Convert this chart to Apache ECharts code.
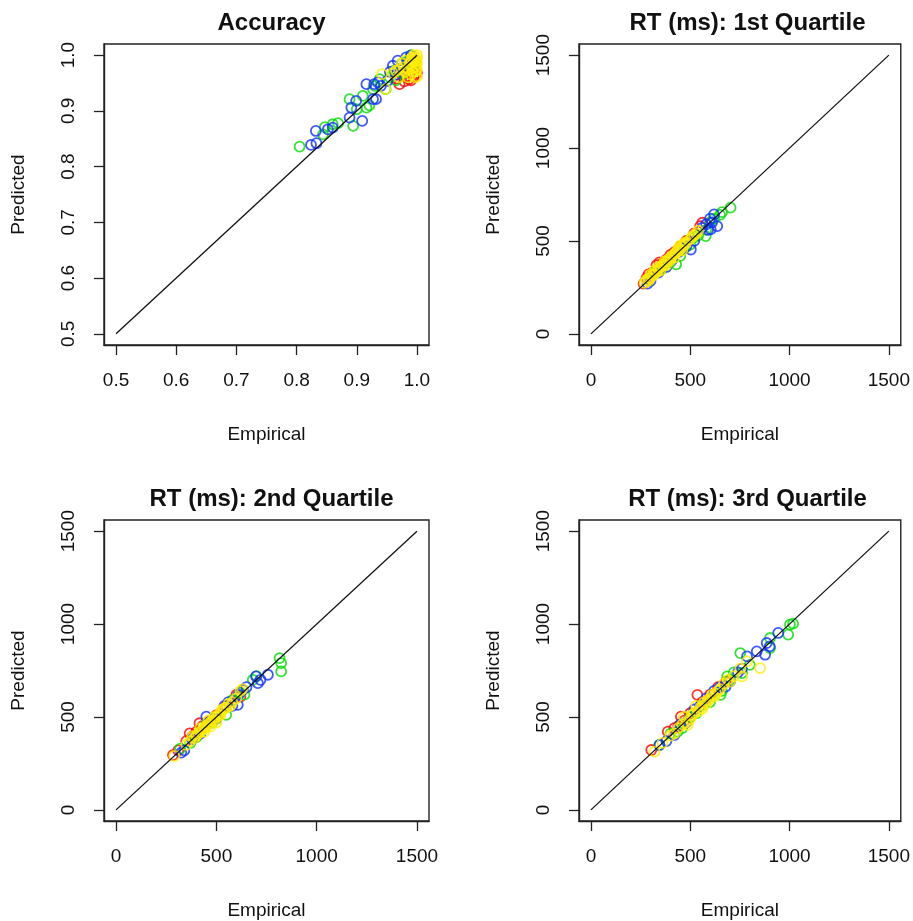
<!DOCTYPE html>
<html>
<head>
<meta charset="utf-8">
<title>Empirical vs Predicted</title>
<script src="https://cdn.jsdelivr.net/npm/echarts@6.0.0/dist/echarts.min.js"></script>
<style>
    html, body { margin: 0; padding: 0; background: #fff; }
    #main { width: 913px; height: 921px; }
</style>
</head>
<body>
<div id="main"></div>
<script>
// panel titles and ticks
var titles = ['Accuracy', 'RT (ms): 1st Quartile', 'RT (ms): 2nd Quartile', 'RT (ms): 3rd Quartile'];
var accTicks = [0.5, 0.6, 0.7, 0.8, 0.9, 1.0];
var rtTicks = [0, 500, 1000, 1500];

// Accuracy  [empirical, predicted]
var accRed = [[0.971,0.948],[0.979,0.953],[0.987,0.957],[0.995,0.962],[0.982,0.962],[0.99,0.97],[0.975,0.965],[0.996,0.975],[0.985,0.98],[0.993,0.985],[0.998,0.99],[0.965,0.958],[0.99,0.955],[1.0,0.968]];
var accGreen = [[0.805,0.836],[0.844,0.858],[0.847,0.871],[0.860,0.876],[0.869,0.878],[0.888,0.921],[0.894,0.873],[0.900,0.903],[0.910,0.927],[0.916,0.906],[0.921,0.910],[0.927,0.939],[0.938,0.957],[0.948,0.939],[0.955,0.96],[0.962,0.972],[0.97,0.975],[0.978,0.968],[0.985,0.99],[0.99,1.0],[0.995,0.985],[0.965,0.955],[0.93,0.945],[0.975,0.985]];
var accBlue = [[0.824,0.839],[0.833,0.842],[0.832,0.864],[0.852,0.867],[0.860,0.870],[0.888,0.888],[0.891,0.906],[0.899,0.918],[0.909,0.882],[0.916,0.948],[0.927,0.921],[0.932,0.921],[0.929,0.948],[0.935,0.951],[0.940,0.945],[0.951,0.954],[0.960,0.981],[0.968,0.990],[0.982,0.996],[0.990,0.999],[0.975,0.975],[0.985,0.985],[0.965,0.965],[0.955,0.97]];
var accYellow = [[0.948,0.939],[0.942,0.966],[0.96,0.968],[0.97,0.975],[0.975,0.985],[0.98,0.99],[0.985,0.975],[0.99,0.99],[0.995,1.0],[1.0,0.995],[0.998,0.98],[0.993,0.97],[1.0,0.975],[0.985,0.96],[0.99,0.965],[1.0,0.985],[0.995,0.99],[0.98,0.97],[0.97,0.96],[1.0,1.0],[0.99,0.98],[0.997,0.96],[0.996,0.995],[0.999,0.99],[0.992,0.995],[0.988,0.985],[0.998,0.972],[0.978,0.978],[0.965,0.972],[1.0,0.962]];

// RT 1st quartile
var q1Red = [[265,270],[280,300],[290,320],[310,330],[330,370],[345,385],[360,380],[380,400],[400,425],[420,440],[450,470],[480,500],[520,540],[550,580],[561,598]];
var q1Green = [[290,295],[320,330],[360,350],[400,385],[429,374],[450,420],[470,460],[500,480],[520,520],[540,530],[578,526],[600,600],[620,620],[650,640],[660,655],[703,679],[580,560]];
var q1Blue = [[285,270],[300,285],[340,330],[380,360],[410,400],[440,440],[460,455],[480,470],[503,454],[520,500],[560,570],[580,590],[603,562],[620,643],[636,580],[600,620],[590,560],[610,600]];
var q1Yellow = [[270,275],[280,290],[290,285],[300,300],[310,315],[320,320],[330,335],[340,345],[350,360],[360,370],[370,375],[380,390],[390,400],[400,410],[410,420],[420,430],[430,440],[440,445],[450,455],[460,470],[470,480],[480,490],[500,510],[510,525],[530,540],[540,555],[320,340],[350,340],[400,395],[440,460],[460,450],[380,370],[300,320],[420,410],[290,300],[340,360],[370,390],[450,475],[470,490],[520,530]];

// RT 2nd quartile
var q2Red = [[284,295],[367,412],[416,466],[350,370],[380,395],[400,420],[430,450],[460,470],[500,510],[550,560],[600,620],[620,610],[310,320]];
var q2Green = [[320,330],[370,360],[400,390],[450,460],[480,470],[500,500],[549,511],[580,590],[620,630],[640,620],[682,700],[700,720],[815,817],[823,790],[823,745]];
var q2Blue = [[325,308],[340,320],[380,380],[420,410],[450,502],[470,480],[500,490],[540,560],[560,580],[580,560],[607,565],[632,646],[650,660],[698,718],[707,682],[757,727],[720,700],[610,620]];
var q2Yellow = [[290,290],[350,350],[370,370],[390,385],[400,400],[410,410],[420,420],[430,430],[440,440],[450,450],[460,460],[470,470],[480,480],[490,480],[500,500],[510,510],[520,525],[530,540],[540,545],[550,550],[560,570],[580,580],[600,600],[620,640],[630,650],[470,450],[440,420],[500,470],[380,395],[420,440],[460,480],[490,500],[520,510],[570,560]];

// RT 3rd quartile
var q3Red = [[304,322],[387,421],[420,440],[453,502],[470,480],[500,520],[536,619],[560,580],[600,620],[640,660],[680,690],[440,450]];
var q3Green = [[345,350],[400,410],[437,421],[460,440],[500,500],[530,520],[560,560],[600,580],[653,619],[686,718],[700,700],[720,740],[752,844],[761,736],[800,780],[902,871],[902,925],[993,943],[1002,997],[1018,1002],[660,640]];
var q3Blue = [[345,349],[380,370],[420,403],[450,460],[480,470],[520,540],[550,560],[580,600],[620,640],[650,660],[678,664],[700,690],[740,740],[786,826],[835,853],[877,835],[885,898],[943,952],[900,880],[760,760]];
var q3Yellow = [[321,313],[360,360],[400,400],[420,410],[440,440],[460,460],[480,470],[487,457],[500,490],[510,510],[520,520],[540,530],[550,550],[560,560],[570,580],[580,570],[600,600],[610,620],[620,610],[640,640],[650,650],[670,680],[700,690],[720,720],[752,760],[761,718],[786,799],[852,763],[470,500],[530,560],[560,545],[590,590],[630,625],[690,700]];

var groupColors = ['#ff0000', '#00dd00', '#1030ff', '#ffee00'];
var font = "'Liberation Sans', Arial, sans-serif";

var panels = [
    { groups: [accRed, accGreen, accBlue, accYellow], ticks: accTicks, min: 0.48, max: 1.02, dec: 1 },
    { groups: [q1Red, q1Green, q1Blue, q1Yellow], ticks: rtTicks, min: -60, max: 1560, dec: 0 },
    { groups: [q2Red, q2Green, q2Blue, q2Yellow], ticks: rtTicks, min: -60, max: 1560, dec: 0 },
    { groups: [q3Red, q3Green, q3Blue, q3Yellow], ticks: rtTicks, min: -60, max: 1560, dec: 0 }
];
var boxes = [
    { left: 104, top: 44, width: 325, height: 301 },
    { left: 579, top: 44, width: 327, height: 301 },
    { left: 104, top: 520, width: 325, height: 301 },
    { left: 579, top: 520, width: 327, height: 301 }
];

var option = { animation: false, backgroundColor: '#fff', title: [], grid: [], xAxis: [], yAxis: [], series: [] };

function makeAxis(p, i, isX) {
    var ax = {
        type: 'value', gridIndex: i, min: p.min, max: p.max,
        position: isX ? 'bottom' : 'left',
        splitLine: { show: false },
        axisLine: { show: true, onZero: false, lineStyle: { color: '#222', width: 1.4 } },
        axisTick: { show: true, inside: false, length: 10, customValues: p.ticks, lineStyle: { color: '#222', width: 1.3 } },
        axisLabel: {
            customValues: p.ticks, margin: 26, color: '#111', fontSize: 19, fontFamily: font,
            formatter: function (v) { return v.toFixed(p.dec); }
        },
        name: isX ? 'Empirical' : 'Predicted',
        nameLocation: 'middle',
        nameTextStyle: { color: '#111', fontSize: 19, fontFamily: font }
    };
    if (isX) {
        ax.nameGap = 80;
    } else {
        ax.axisLabel.rotate = 90;
        ax.nameGap = 76;
    }
    return ax;
}

for (var i = 0; i < panels.length; i++) {
    var p = panels[i];
    var b = boxes[i];
    option.grid.push({ left: b.left, top: b.top, width: b.width, height: b.height, show: true, borderColor: '#222', borderWidth: 1.4, backgroundColor: 'transparent' });
    option.title.push({
        text: titles[i], left: b.left + b.width / 2, top: b.top - 38, textAlign: 'center',
        textStyle: { fontSize: 24, fontWeight: 'bold', color: '#111', fontFamily: font }
    });
    option.xAxis.push(makeAxis(p, i, true));
    option.yAxis.push(makeAxis(p, i, false));
    for (var g = 0; g < p.groups.length; g++) {
        option.series.push({
            type: 'scatter', xAxisIndex: i, yAxisIndex: i, data: p.groups[g],
            symbol: 'circle', symbolSize: 10, silent: true,
            itemStyle: { color: 'rgba(0,0,0,0)', borderColor: groupColors[g], borderWidth: 1.8 }
        });
    }
    var lo = p.ticks[0], hi = p.ticks[p.ticks.length - 1];
    option.series.push({
        type: 'line', xAxisIndex: i, yAxisIndex: i, data: [[lo, lo], [hi, hi]],
        symbol: 'none', silent: true, lineStyle: { color: '#111', width: 1.3 }
    });
}

echarts.init(document.getElementById('main')).setOption(option);
</script>
</body>
</html>
